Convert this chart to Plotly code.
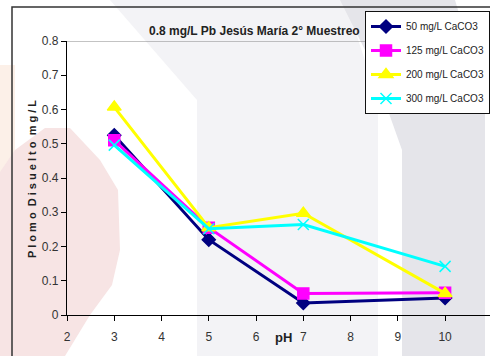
import plotly.graph_objects as go

ph = [3, 5, 7, 10]
series_names = ["50 mg/L CaCO3", "125 mg/L CaCO3", "200 mg/L CaCO3", "300 mg/L CaCO3"]
pb_50 = [0.525, 0.22, 0.035, 0.05]
pb_125 = [0.51, 0.255, 0.063, 0.065]
pb_200 = [0.607, 0.255, 0.297, 0.063]
pb_300 = [0.496, 0.252, 0.264, 0.142]
x_ticks = [2, 3, 4, 5, 6, 7, 8, 9, 10]
y_ticks = [0, 0.1, 0.2, 0.3, 0.4, 0.5, 0.6, 0.7, 0.8]

W, H = 490, 356
L, R, T, B = 67, 0, 41, 41
PW, PH = W - L - R, H - T - B

def px(x):
    return (x - L) / PW

def py(y):
    return (H - B - y) / PH

def path(pts):
    s = "M " + " L ".join(f"{px(a):.5f},{py(b):.5f}" for a, b in pts) + " Z"
    return s

FONT = "Liberation Sans Narrow, Arial Narrow, Liberation Sans, Arial"

colors = ["#000080", "#ff00ff", "#ffff00", "#00ffff"]
symbols = ["diamond", "square", "triangle-up", "x-thin-open"]
msizes = [10, 11, 12, 11]
data = [pb_50, pb_125, pb_200, pb_300]

fig = go.Figure()
for i, (name, vals, c, s, ms) in enumerate(zip(series_names, data, colors, symbols, msizes)):
    fig.add_trace(go.Scatter(
        x=ph, y=vals, name=name, mode="lines+markers", legendgroup=f"g{i}",
        line=dict(color=c, width=3),
        marker=dict(symbol=s, size=ms, color=c, line=dict(color=c, width=1.5)),
    ))

def pshape(**kw):
    d = dict(xref="paper", yref="paper", layer="below")
    d.update(kw)
    return d

shapes = [
    # watermark background
    pshape(type="path", path=path([(0, 65), (15, 65), (15, 170), (0, 180)]),
           fillcolor="#fcf0e8", line=dict(width=0)),
    pshape(type="path", path=path([(0, 172), (15, 150), (45, 128), (70, 128), (100, 160), (118, 190),
                                   (120, 250), (112, 285), (90, 315), (65, 356), (0, 356)]),
           fillcolor="#f7e4e4", line=dict(width=0)),
    pshape(type="path", path=path([(110, 0), (345, 0), (378, 100), (378, 356), (197, 356), (197, 100)]),
           fillcolor="#f3f3f6", line=dict(width=0)),
    pshape(type="path", path=path([(340, 0), (455, 0), (485, 100), (485, 356), (402, 356), (402, 150), (370, 60)]),
           fillcolor="#e5e5ea", line=dict(width=0)),
    # outer chart frame
    pshape(type="rect", x0=px(12), x1=px(520), y0=py(7), y1=py(400),
           line=dict(color="#333333", width=1.5), fillcolor="rgba(0,0,0,0)"),
    # plot area top border
    dict(type="line", xref="paper", yref="y", x0=0, x1=1, y0=0.8, y1=0.8,
         line=dict(color="#888888", width=1), layer="below"),
]

annotations = [
    dict(text="<b>0.8 mg/L Pb Jesús María 2° Muestreo</b>", x=px(254), y=py(31),
         xref="paper", yref="paper", showarrow=False, xanchor="center", yanchor="middle",
         font=dict(family=FONT, size=12, color="#222222")),
    dict(text="<b>P l o m o  D i s u e l t o  m g / L</b>", x=px(32), y=py(179),
         xref="paper", yref="paper", showarrow=False, textangle=-90,
         xanchor="center", yanchor="middle",
         font=dict(family=FONT, size=11, color="#222222")),
    dict(text="<b>pH</b>", x=px(283), y=py(337), xref="paper", yref="paper",
         showarrow=False, xanchor="center", yanchor="middle",
         font=dict(family=FONT, size=13, color="#222222")),
]

fig.update_layout(
    width=W, height=H,
    margin=dict(l=L, r=R, t=T, b=B, autoexpand=False),
    paper_bgcolor="white", plot_bgcolor="rgba(0,0,0,0)",
    shapes=shapes, annotations=annotations,
    font=dict(family=FONT, size=12, color="#333333"),
    legend=dict(x=1, y=py(11), xanchor="right", yanchor="top",
                bgcolor="white", bordercolor="#111111", borderwidth=1,
                font=dict(family=FONT, size=10, color="#222222"),
                tracegroupgap=5, itemwidth=30),
    xaxis=dict(range=[2, 10.95], tickvals=x_ticks, showgrid=False, zeroline=False,
               showline=True, linecolor="black", linewidth=1.2,
               ticks="outside", ticklen=5, tickcolor="black", ticklabelstandoff=5,
               tickfont=dict(family=FONT, size=12, color="#333333")),
    yaxis=dict(range=[0, 0.8], tickvals=y_ticks, showgrid=False, zeroline=False,
               showline=True, linecolor="black", linewidth=1.2,
               ticks="outside", ticklen=5, tickcolor="black",
               tickfont=dict(family=FONT, size=12, color="#333333")),
)

fig.write_html("out.html")
